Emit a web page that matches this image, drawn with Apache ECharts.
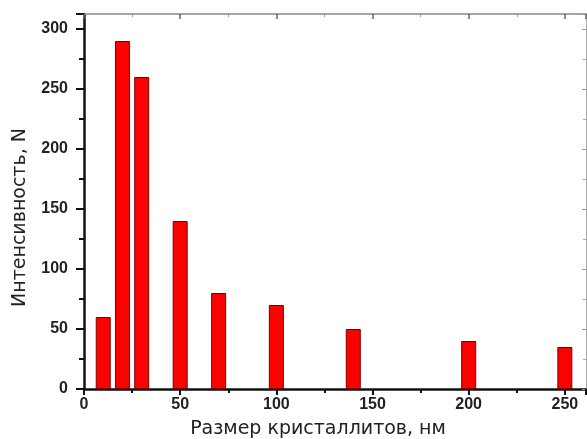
<!DOCTYPE html>
<html>
<head>
<meta charset="utf-8">
<script src="https://cdn.jsdelivr.net/npm/echarts@6/dist/echarts.min.js"></script>
<style>
    html, body { margin: 0; padding: 0; background: #fff; }
    #chart { width: 587px; height: 439px; }
</style>
</head>
<body>
<div id="chart"></div>
<script>
// размеры кристаллитов (нм) и интенсивность
var sizes = [10, 20, 30, 50, 70, 100, 140, 200, 250];
var counts = [60, 290, 260, 140, 80, 70, 50, 40, 35];
var xTicks = [0, 50, 100, 150, 200, 250];
var yTicks = [0, 50, 100, 150, 200, 250, 300];

var points = sizes.map(function (s, i) { return [s, counts[i]]; });

var labelFont = {
    fontFamily: 'Liberation Sans, Arial, sans-serif',
    fontWeight: 'bold',
    fontSize: 16,
    color: '#222'
};
var titleFont = {
    fontFamily: 'DejaVu Sans, sans-serif',
    fontSize: 19,
    color: '#222'
};

var myChart = echarts.init(document.getElementById('chart'));
myChart.setOption({
    animation: false,
    grid: { left: 84, right: 1, top: 14, bottom: 50, outerBoundsMode: 'none', containLabel: false },
    xAxis: [
        {
            type: 'value',
            position: 'bottom',
            min: 0,
            max: 261,
            interval: 50,
            name: 'Размер кристаллитов, нм',
            nameLocation: 'middle',
            nameGap: 31,
            nameTextStyle: Object.assign({ padding: [0, 34, 0, 0] }, titleFont),
            axisLine: { lineStyle: { color: '#111', width: 2.5 } },
            axisTick: { inside: false, length: 6, lineStyle: { color: '#111', width: 2 } },
            minorTick: { show: true, splitNumber: 2, length: 4, lineStyle: { color: '#111', width: 2 } },
            axisLabel: Object.assign({
                margin: 8,
                formatter: function (v) { return xTicks.indexOf(v) >= 0 ? v : ''; }
            }, labelFont),
            splitLine: { show: false }
        },
        {
            type: 'value',
            position: 'top',
            min: 0,
            max: 261,
            interval: 50,
            axisLine: { onZero: false, lineStyle: { color: '#888', width: 1.5 } },
            axisTick: { inside: true, length: 5, lineStyle: { color: '#666', width: 1.5 } },
            minorTick: { show: true, splitNumber: 2, length: 3, lineStyle: { color: '#999' } },
            axisLabel: { show: false },
            splitLine: { show: false }
        }
    ],
    yAxis: [
        {
            type: 'value',
            position: 'left',
            min: 0,
            max: 312.5,
            interval: 50,
            name: 'Интенсивность, N',
            nameLocation: 'middle',
            nameGap: 54,
            nameTextStyle: Object.assign({ padding: [0, 32, 0, 0] }, titleFont),
            axisLine: { show: true, lineStyle: { color: '#111', width: 2.5 } },
            axisTick: { show: true, inside: false, length: 8, lineStyle: { color: '#111', width: 2 } },
            minorTick: { show: true, splitNumber: 2, length: 5, lineStyle: { color: '#111', width: 2 } },
            axisLabel: Object.assign({
                margin: 16,
                formatter: function (v) { return yTicks.indexOf(v) >= 0 ? v : ''; }
            }, labelFont),
            splitLine: { show: false }
        },
        {
            type: 'value',
            position: 'right',
            min: 0,
            max: 312.5,
            interval: 50,
            axisLine: { show: true, onZero: false, lineStyle: { color: '#aaa', width: 1 } },
            axisTick: { show: true, inside: true, length: 4, lineStyle: { color: '#999' } },
            minorTick: { show: true, splitNumber: 2, length: 3, lineStyle: { color: '#aaa' } },
            axisLabel: { show: false },
            splitLine: { show: false }
        }
    ],
    series: [
        {
            type: 'bar',
            xAxisIndex: 0,
            yAxisIndex: 0,
            barWidth: 15,
            data: points,
            itemStyle: {
                color: '#ff0000',
                borderColor: '#7a0000',
                borderWidth: 1
            }
        }
    ]
});
</script>
</body>
</html>
